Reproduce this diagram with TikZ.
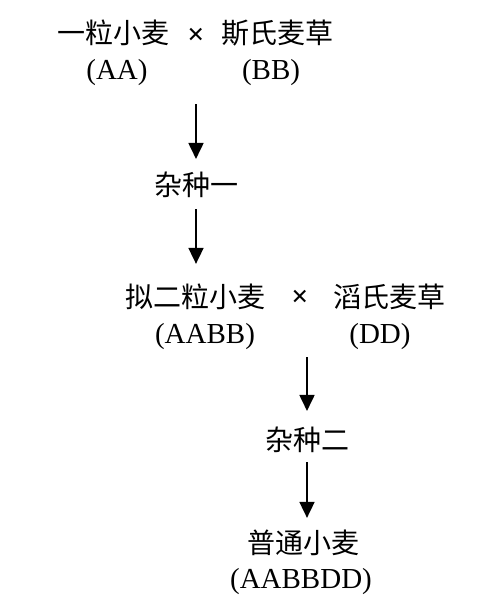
\documentclass[tikz,border=0pt]{standalone}
\usepackage{fontspec}
\setmainfont{Liberation Serif}
\newfontfamily\cjk{Noto Sans CJK SC}
\usetikzlibrary{arrows.meta}
\tikzset{
  zi/.style={font=\cjk\fontsize{28}{30}\selectfont,inner sep=0pt},
  ji/.style={font=\fontsize{29}{31}\selectfont,inner sep=0pt},
  cha/.style={font=\bfseries\fontsize{30}{32}\selectfont,inner sep=0pt},
  jt/.style={-{Triangle[length=16pt,width=15pt]},line width=1.8pt}
}
\begin{document}
\begin{tikzpicture}[x=1pt,y=-1pt]
\useasboundingbox (0,0) rectangle (495,606);
% first cross
\node[zi] (yili) at (113,33){一粒小麦};
\node[cha] (x1) at (196,36){×};
\node[zi] (sishi) at (277,33){斯氏麦草};
\node[ji] (aa) at (117,73){(AA)};
\node[ji] (bb) at (271,73){(BB)};
\coordinate (c1) at (196,104);
\node[zi] (zz1) at (196,185){杂种一};
\draw[jt,shorten >=13pt] (c1) -- (c1 |- zz1.north);
% second cross
\node[zi] (nierli) at (195,297){拟二粒小麦};
\node[cha] (x2) at (300,298){×};
\node[zi] (taoshi) at (389,297){滔氏麦草};
\node[ji] (aabb) at (205,337){(AABB)};
\node[ji] (dd) at (380,337){(DD)};
\draw[jt,shorten <=11pt,shorten >=20pt] (zz1.south) -- (zz1.south |- nierli.north);
\coordinate (c2) at (307,357);
\node[zi] (zz2) at (307,440){杂种二};
\draw[jt,shorten >=16pt] (c2) -- (c2 |- zz2.north);
\node[zi] (putong) at (303,543){普通小麦};
\node[ji] (aabbdd) at (301,582){(AABBDD)};
\draw[jt,shorten <=9pt,shorten >=12pt] (zz2.south) -- (zz2.south |- putong.north);
\end{tikzpicture}
\end{document}
